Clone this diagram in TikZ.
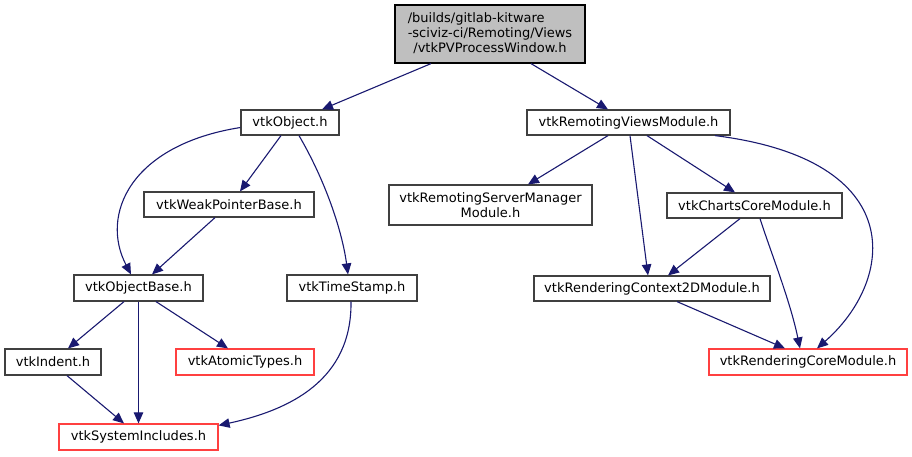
\documentclass[tikz,border=0pt]{standalone}
\usepackage{fontspec}
\setmainfont{DejaVu Sans}
\usetikzlibrary{arrows.meta}
\definecolor{edgec}{HTML}{191970}
\definecolor{boxc}{HTML}{404040}
\definecolor{redc}{HTML}{FF4040}
\definecolor{rootfill}{HTML}{BFBFBF}
\begin{document}
\begin{tikzpicture}[x=1pt,y=-1pt,
  box/.style={draw=boxc,line width=1.2pt,fill=white,inner sep=0pt,align=center,
    font=\fontsize{13}{15}\selectfont},
  redbox/.style={box,draw=redc},
  rootbox/.style={box,draw=black,fill=rootfill},
  edge/.style={draw=edgec,line width=1.1pt,-{Triangle[length=11pt,width=9.5pt]}}]
\useasboundingbox (0,0) rectangle (912,456);
\node[rootbox,minimum width=190pt,minimum height=58pt] (root) at (490,34) {\begin{tabular}{@{}l@{}}/builds/gitlab-kitware\\-sciviz-ci/Remoting/Views\\\multicolumn{1}{@{}c@{}}{/vtkPVProcessWindow.h}\end{tabular}};
\node[box,minimum width=98pt,minimum height=25pt] (obj) at (290,122.5) {vtkObject.h};
\node[box,minimum width=203pt,minimum height=25pt] (rvm) at (628.5,122.5) {vtkRemotingViewsModule.h};
\node[box,minimum width=203pt,minimum height=40pt] (rsm) at (490.5,205) {vtkRemotingServerManager\\Module.h};
\node[box,minimum width=170pt,minimum height=25pt] (wpb) at (229,204.5) {vtkWeakPointerBase.h};
\node[box,minimum width=175pt,minimum height=25pt] (ccm) at (754.5,205.5) {vtkChartsCoreModule.h};
\node[box,minimum width=129pt,minimum height=26pt] (ob) at (138.5,288) {vtkObjectBase.h};
\node[box,minimum width=130pt,minimum height=26pt] (ts) at (352,288) {vtkTimeStamp.h};
\node[box,minimum width=236pt,minimum height=25pt] (c2d) at (652,288.5) {vtkRenderingContext2DModule.h};
\node[box,minimum width=96pt,minimum height=26pt] (ind) at (53,362) {vtkIndent.h};
\node[redbox,minimum width=138pt,minimum height=26pt] (at) at (245,362) {vtkAtomicTypes.h};
\node[redbox,minimum width=159pt,minimum height=26pt] (si) at (138.5,437) {vtkSystemIncludes.h};
\node[redbox,minimum width=198pt,minimum height=26pt] (rcm) at (808,362) {vtkRenderingCoreModule.h};

\draw[edge] ([xshift=-59pt]root.south) -- ([xshift=32pt]obj.north);
\draw[edge] ([xshift=41pt]root.south) -- ([xshift=-20.5pt]rvm.north);
\draw[edge] ([yshift=-5pt]obj.west) .. controls (130,145) and (100,215) .. ([xshift=-7.5pt]ob.north);
\draw[edge] ([xshift=-9pt]obj.south) -- ([xshift=11pt]wpb.north);
\draw[edge] ([xshift=9pt]obj.south) .. controls (325,180) and (342,230) .. ([xshift=-4pt]ts.north);
\draw[edge] ([xshift=-14pt]wpb.south) -- ([xshift=13.5pt]ob.north);
\draw[edge] ([xshift=-14.5pt]ob.south) -- ([xshift=15pt]ind.north);
\draw[edge] (ob.south) -- (si.north);
\draw[edge] ([xshift=17.5pt]ob.south) -- ([xshift=-17pt]at.north);
\draw[edge] ([xshift=14pt]ind.south) -- ([xshift=-14.5pt]si.north);
\draw[edge] ([xshift=-1pt]ts.south) .. controls (352,380) and (290,410) .. ([yshift=-2pt]si.north east);
\draw[edge] ([xshift=-20.5pt]rvm.south) -- ([xshift=37.5pt]rsm.north);
\draw[edge] ([xshift=1.5pt]rvm.south) -- ([xshift=-4pt]c2d.north);
\draw[edge] ([xshift=18.5pt]rvm.south) -- ([xshift=-19.5pt]ccm.north);
\draw[edge] ([xshift=86.5pt]rvm.south) .. controls (910,160) and (895,280) .. ([xshift=9pt]rcm.north);
\draw[edge] ([xshift=-14.5pt]ccm.south) -- ([xshift=16pt]c2d.north);
\draw[edge] ([xshift=5.5pt]ccm.south) .. controls (770,250) and (790,300) .. ([xshift=-8pt]rcm.north);
\draw[edge] ([xshift=25pt]c2d.south) -- ([xshift=-23pt]rcm.north);
\end{tikzpicture}
\end{document}
